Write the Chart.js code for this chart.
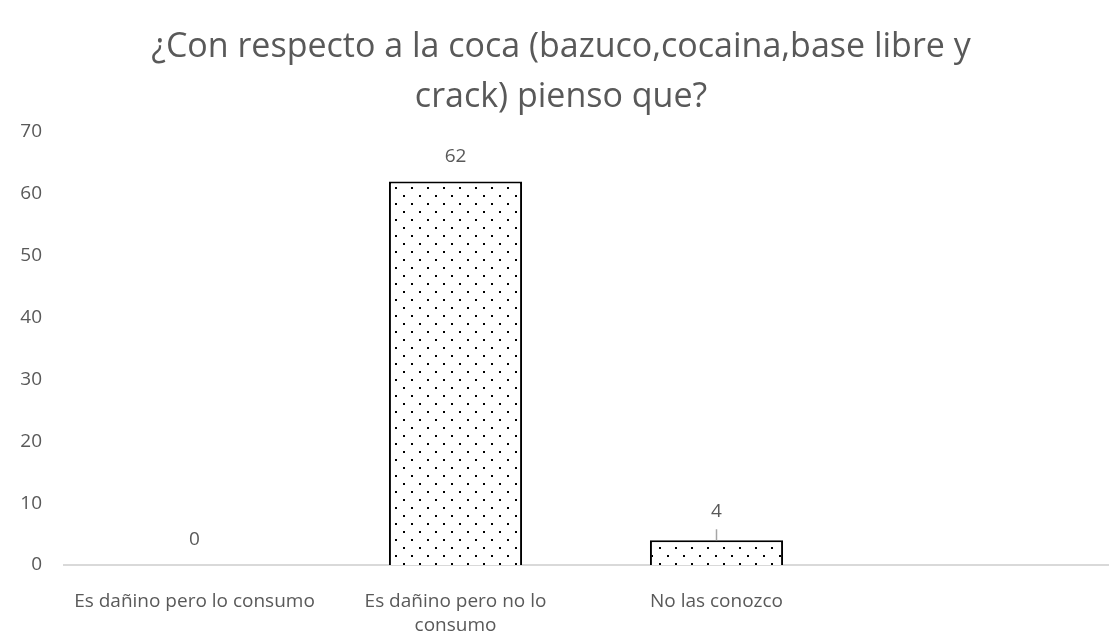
<!DOCTYPE html>
<html>
<head>
<meta charset="utf-8">
<script src="https://cdn.jsdelivr.net/npm/chart.js@4.4.0/dist/chart.umd.min.js"></script>
<style>
html,body{margin:0;padding:0;background:#fff;}
#wrap{width:1110px;height:635px;position:relative;}
</style>
</head>
<body>
<div id="wrap"><canvas id="c" width="1110" height="635"></canvas></div>
<script>
const titleLines = ["¿Con respecto a la coca (bazuco,cocaina,base libre y", "crack) pienso que?"];
const categories = [["Es dañino pero lo consumo"], ["Es dañino pero no lo", "consumo"], ["No las conozco"], [""]];
const values = [0, 62, 4, null];
const yTicks = {min: 0, max: 70, step: 10};

function makePattern() {
  const t = document.createElement('canvas');
  t.width = 16; t.height = 16;
  const g = t.getContext('2d');
  g.fillStyle = '#ffffff';
  g.fillRect(0, 0, 16, 16);
  g.fillStyle = '#000000';
  g.fillRect(3, 3, 2, 2);
  g.fillRect(11, 11, 2, 2);
  return document.getElementById('c').getContext('2d').createPattern(t, 'repeat');
}

const labelPlugin = {
  id: 'valueLabels',
  afterDatasetsDraw(chart) {
    const ctx = chart.ctx;
    const meta = chart.getDatasetMeta(0);
    ctx.save();
    ctx.font = '19px "Open Sans"';
    ctx.fillStyle = '#595959';
    ctx.textAlign = 'center';
    ctx.textBaseline = 'middle';
    meta.data.forEach((bar, i) => {
      const v = values[i];
      if (v === null || v === undefined) return;
      const h = bar.base - bar.y;
      let ly = bar.y - 25;
      if (v > 0 && h < 30) {
        ly = bar.y - 29;
        ctx.strokeStyle = '#a6a6a6';
        ctx.lineWidth = 1.5;
        ctx.beginPath();
        ctx.moveTo(bar.x, bar.y);
        ctx.lineTo(bar.x, bar.y - 11);
        ctx.stroke();
      }
      ctx.fillText(String(v), bar.x, ly);
    });
    ctx.restore();
  }
};

new Chart(document.getElementById('c'), {
  type: 'bar',
  data: {
    labels: categories,
    datasets: [{
      data: values,
      backgroundColor: makePattern(),
      borderColor: '#000000',
      borderWidth: 2,
      categoryPercentage: 1.0,
      barPercentage: 0.51
    }]
  },
  options: {
    responsive: false,
    animation: false,
    layout: {padding: {left: 14, right: 2, top: 0, bottom: 0}},
    plugins: {
      legend: {display: false},
      tooltip: {enabled: false},
      title: {
        display: true,
        text: titleLines,
        color: '#595959',
        font: {family: 'Open Sans', size: 34, weight: 'normal', lineHeight: 1.47},
        padding: {top: 22, bottom: 10}
      }
    },
    scales: {
      x: {
        grid: {display: false, drawTicks: false},
        border: {display: true, color: '#d9d9d9', width: 2},
        ticks: {color: '#595959', font: {family: 'Open Sans', size: 19, lineHeight: 1.3}, padding: 24, maxRotation: 0, autoSkip: false},
        afterFit(scale) { scale.height = 70; }
      },
      y: {
        min: yTicks.min, max: yTicks.max,
        grid: {display: false, drawTicks: false},
        border: {display: false},
        ticks: {stepSize: yTicks.step, color: '#595959', font: {family: 'Open Sans', size: 19}, padding: 22},
        afterFit(scale) { scale.width = 50; }
      }
    }
  },
  plugins: [labelPlugin]
});
</script>
</body>
</html>
